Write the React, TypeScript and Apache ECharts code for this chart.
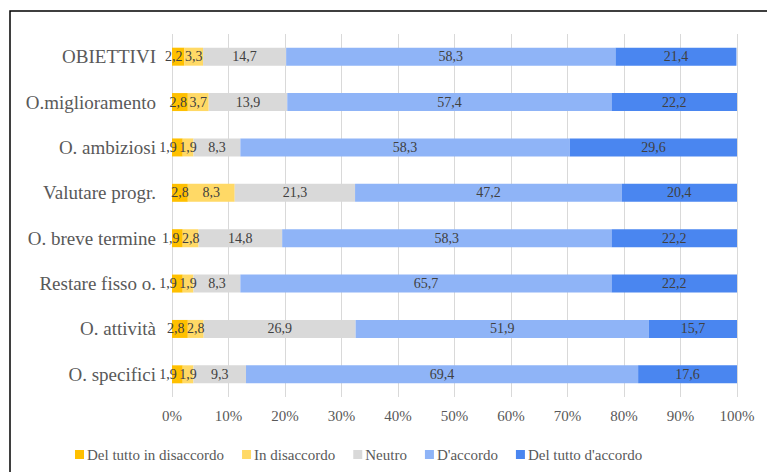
import React, { useEffect, useRef } from "react";
import * as echarts from "echarts";

const categories = [
  "OBIETTIVI",
  "O.miglioramento",
  "O. ambiziosi",
  "Valutare progr.",
  "O. breve termine",
  "Restare fisso o.",
  "O. attività",
  "O. specifici",
];

const seriesNames = [
  "Del tutto in disaccordo",
  "In disaccordo",
  "Neutro",
  "D'accordo",
  "Del tutto d'accordo",
];

const delTuttoDisaccordo = [2.2, 2.8, 1.9, 2.8, 1.9, 1.9, 2.8, 1.9];
const inDisaccordo = [3.3, 3.7, 1.9, 8.3, 2.8, 1.9, 2.8, 1.9];
const neutro = [14.7, 13.9, 8.3, 21.3, 14.8, 8.3, 26.9, 9.3];
const dAccordo = [58.3, 57.4, 58.3, 47.2, 58.3, 65.7, 51.9, 69.4];
const delTuttoAccordo = [21.4, 22.2, 29.6, 20.4, 22.2, 22.2, 15.7, 17.6];

const tickLabels = ["0%", "10%", "20%", "30%", "40%", "50%", "60%", "70%", "80%", "90%", "100%"];

const colors = ["#FFC000", "#FFD966", "#D9D9D9", "#8FB4F7", "#4A86F0"];

const GRID_LEFT = 172;
const GRID_RIGHT = 30;
const WIDTH = 767;

export default function App() {
  const ref = useRef<HTMLDivElement>(null);
  useEffect(() => {
    if (!ref.current) return;
    const chart = echarts.init(ref.current, null, { renderer: "svg" });
    const values = [delTuttoDisaccordo, inDisaccordo, neutro, dAccordo, delTuttoAccordo];
    const font = "'Liberation Serif', 'Times New Roman', serif";
    const pxPerUnit = (WIDTH - GRID_LEFT - GRID_RIGHT) / 100;
    const minDist = 20;
    // shift the first small label to the left so that it does not collide with the second one
    const firstShift = delTuttoDisaccordo.map((v0, i) => {
      const c0 = (v0 / 2) * pxPerUnit;
      const c1 = (v0 + inDisaccordo[i] / 2) * pxPerUnit;
      const d = c1 - c0;
      return d < minDist ? -(minDist - d) : 0;
    });
    const fmt = (v: number) => v.toFixed(1).replace(".", ",");
    chart.setOption({
      animation: false,
      textStyle: { fontFamily: font },
      graphic: [
        {
          type: "rect",
          shape: { x: 10, y: 11, width: 800, height: 500 },
          style: { fill: "none", stroke: "#000", lineWidth: 1.5 },
          silent: true,
        },
      ],
      legend: {
        left: 70,
        top: 442,
        itemWidth: 9,
        itemHeight: 9,
        itemGap: 18,
        icon: "rect",
        textStyle: { fontFamily: font, fontSize: 15, color: "#595959", padding: [0, 0, 0, -2] },
        data: seriesNames,
      },
      grid: { left: GRID_LEFT, right: GRID_RIGHT, top: 34, bottom: 75, containLabel: false },
      xAxis: {
        type: "value",
        min: 0,
        max: 100,
        interval: 10,
        axisLine: { show: false },
        axisTick: { show: false },
        splitLine: { show: true, lineStyle: { color: "#D9D9D9", width: 1 } },
        axisLabel: {
          fontFamily: font,
          fontSize: 15,
          color: "#595959",
          margin: 11,
          formatter: (v: number) => tickLabels[Math.round(v / 10)],
        },
      },
      yAxis: {
        type: "category",
        inverse: true,
        data: categories,
        axisLine: { show: false },
        axisTick: { show: false },
        axisLabel: { fontFamily: font, fontSize: 19, color: "#595959", margin: 16 },
      },
      series: seriesNames.map((name, i) => ({
        name,
        type: "bar",
        stack: "total",
        barWidth: 18,
        itemStyle: { color: colors[i] },
        label: {
          show: true,
          position: "inside",
          fontFamily: font,
          fontSize: 14,
          color: "#404040",
          formatter: (p: any) => fmt(p.value),
        },
        data: values[i].map((v, j) =>
          i === 0 ? { value: v, label: { offset: [firstShift[j], 0] } } : v
        ),
      })),
    });
    return () => chart.dispose();
  }, []);
  return (
    <div
      ref={ref}
      style={{ position: "fixed", left: 0, top: 0, width: 767, height: 472, background: "#fff" }}
    />
  );
}
